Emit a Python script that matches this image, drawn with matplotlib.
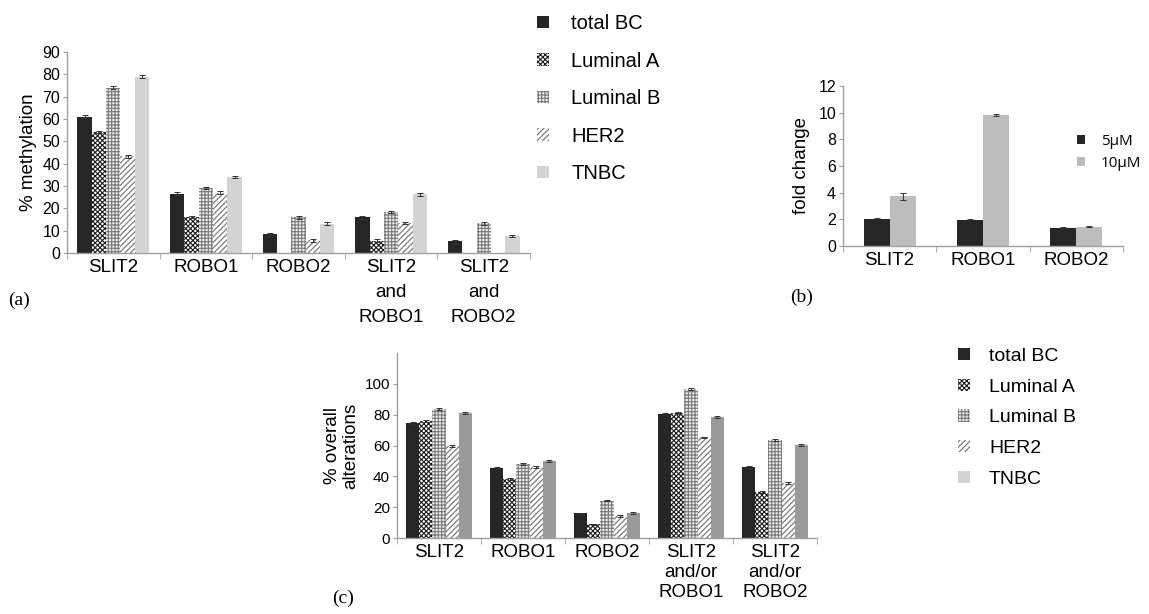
import numpy as np
import matplotlib
matplotlib.use("Agg")
import matplotlib.pyplot as plt
from matplotlib.patches import Patch

plt.rcParams['font.family'] = ['Liberation Sans', 'DejaVu Sans']
plt.rcParams['hatch.linewidth'] = 0.8

# ---------------- data ----------------
series = ["total BC", "Luminal A", "Luminal B", "HER2", "TNBC"]

cats_a = ["SLIT2", "ROBO1", "ROBO2", "SLIT2\nand\nROBO1", "SLIT2\nand\nROBO2"]
meth_total = [61, 26.6, 8.5, 16, 5.2]
meth_luma = [54.2, 16.1, 0, 5.5, 0]
meth_lumb = [74, 29.1, 16, 18.4, 13.3]
meth_her2 = [43.3, 27, 5.6, 13.5, 0]
meth_tnbc = [79, 34, 13.1, 26.3, 7.6]
meth_err = 0.6

cats_b = ["SLIT2", "ROBO1", "ROBO2"]
doses = ["5µM", "10µM"]
fold_5 = [2.03, 1.97, 1.38]
fold_10 = [3.73, 9.82, 1.45]
fold_5_err = [0.04, 0.04, 0.04]
fold_10_err = [0.25, 0.1, 0.06]

cats_c = ["SLIT2", "ROBO1", "ROBO2", "SLIT2\nand/or\nROBO1", "SLIT2\nand/or\nROBO2"]
alt_total = [74.8, 45.6, 15.9, 80.6, 46.2]
alt_luma = [75.9, 38.3, 8.8, 80.9, 30.1]
alt_lumb = [83.9, 48, 24.3, 96.8, 63.4]
alt_her2 = [59.6, 46.2, 14, 65.2, 35.9]
alt_tnbc = [81.3, 50.1, 16.3, 78.5, 60.6]
alt_err = 0.6

# ---------------- styles ----------------
DARK = '#262626'
styles = [
    dict(facecolor=DARK, edgecolor=DARK, hatch=None),
    dict(facecolor='white', edgecolor='#1a1a1a', hatch='xxxxxxx'),
    dict(facecolor='#ececec', edgecolor='#7a7a7a', hatch='+++++'),
    dict(facecolor='white', edgecolor='#707070', hatch='//////'),
    dict(facecolor='#d3d3d3', edgecolor='#d3d3d3', hatch=None),
]
SPINE = '#a0a0a0'

W, H = 1149, 614
fig = plt.figure(figsize=(W / 100, H / 100), dpi=100)


def ax_at(l, r, t, b):
    return fig.add_axes([l / W, (H - b) / H, (r - l) / W, (b - t) / H])


def style_axes(ax, ncat, labels, fs_x, fs_y, linesp):
    for s in ['top', 'right']:
        ax.spines[s].set_visible(False)
    for s in ['left', 'bottom']:
        ax.spines[s].set_color(SPINE)
        ax.spines[s].set_linewidth(1.0)
    ax.set_xlim(-0.5, ncat - 0.5)
    ax.set_xticks(np.arange(ncat))
    ax.set_xticklabels(labels, fontsize=fs_x, linespacing=linesp)
    ax.set_xticks(np.arange(ncat + 1) - 0.5, minor=True)
    ax.tick_params(axis='x', which='major', length=0, pad=4)
    ax.tick_params(axis='x', which='minor', length=4, color=SPINE)
    ax.tick_params(axis='y', length=3, color=SPINE, labelsize=fs_y, pad=2)


def grouped(ax, values, errs, width, style_list, tnbc_color=None):
    n = len(values)
    x = np.arange(len(values[0]))
    for j, (vals, st) in enumerate(zip(values, style_list)):
        st = dict(st)
        if tnbc_color is not None and j == n - 1:
            st['facecolor'] = tnbc_color
            st['edgecolor'] = tnbc_color
        pos = x + (j - (n - 1) / 2) * width
        ax.bar(pos, vals, width, linewidth=0, **st)
        v = np.array(vals, float)
        e = np.array(errs[j], float) if np.ndim(errs[j]) else np.full(len(v), errs[j])
        m = v > 0
        ax.errorbar(pos[m], v[m], yerr=e[m], fmt='none', ecolor='#333333',
                    elinewidth=0.7, capsize=2, capthick=0.7)


# ---------------- panel (a) ----------------
axa = ax_at(67, 530, 52, 253)
grouped(axa, [meth_total, meth_luma, meth_lumb, meth_her2, meth_tnbc],
        [meth_err] * 5, 0.155, styles)
axa.set_ylim(0, 90)
axa.set_yticks(np.arange(0, 91, 10))
style_axes(axa, 5, cats_a, 13.5, 11.5, 1.65)
axa.set_ylabel("% methylation", fontsize=13.5, labelpad=4)

# ---------------- panel (b) ----------------
axb = ax_at(843, 1123, 86, 246)
xb = np.arange(len(cats_b))
wb = 0.28
axb.bar(xb - wb / 2, fold_5, wb, color=DARK, linewidth=0, label=doses[0])
axb.bar(xb + wb / 2, fold_10, wb, color='#bdbdbd', linewidth=0, label=doses[1])
axb.errorbar(xb - wb / 2, fold_5, yerr=fold_5_err, fmt='none', ecolor='#333333',
             elinewidth=0.7, capsize=2, capthick=0.7)
axb.errorbar(xb + wb / 2, fold_10, yerr=fold_10_err, fmt='none', ecolor='#333333',
             elinewidth=0.7, capsize=2, capthick=0.7)
axb.set_ylim(0, 12)
axb.set_yticks(np.arange(0, 13, 2))
style_axes(axb, 3, cats_b, 13.5, 11.5, 1.2)
axb.set_ylabel("fold change", fontsize=13.5, labelpad=6)
axb.legend(loc='upper left', bbox_to_anchor=(1077 / W, 1 - 134 / H),
           bbox_transform=fig.transFigure, frameon=False,
           prop={'family': ['Open Sans', 'DejaVu Sans'], 'size': 11},
           handlelength=0.55, handleheight=0.55, handletextpad=1.0,
           labelspacing=0.45, borderpad=0, borderaxespad=0)

# ---------------- panel (c) ----------------
axc = ax_at(397, 817, 353, 538)
grouped(axc, [alt_total, alt_luma, alt_lumb, alt_her2, alt_tnbc],
        [alt_err] * 5, 0.155, styles, tnbc_color='#9a9a9a')
axc.set_ylim(0, 120)
axc.set_yticks(np.arange(0, 101, 20))
style_axes(axc, 5, cats_c, 13.5, 11, 1.25)
axc.set_ylabel("% overall\nalterations", fontsize=13.5, labelpad=4, linespacing=1.1)

# ---------------- legends for (a) and (c) ----------------
handles = [Patch(facecolor=s['facecolor'], edgecolor=s['edgecolor'], hatch=s['hatch'],
                 linewidth=0, label=lab) for s, lab in zip(styles, series)]
fig.legend(handles=handles, loc='upper left', bbox_to_anchor=(537 / W, 1 - 14 / H),
           frameon=False, fontsize=14.5, handlelength=0.6, handleheight=0.6,
           handletextpad=1.1, labelspacing=0.92, borderpad=0, borderaxespad=0)
fig.legend(handles=handles, loc='upper left', bbox_to_anchor=(958 / W, 1 - 348 / H),
           frameon=False, fontsize=14, handlelength=0.6, handleheight=0.6,
           handletextpad=1.0, labelspacing=0.7, borderpad=0, borderaxespad=0)

# ---------------- panel labels ----------------
for txt, x, y in [("(a)", 19, 300), ("(b)", 802, 297), ("(c)", 343, 598)]:
    fig.text(x / W, 1 - y / H, txt, ha='center', va='center', fontsize=14,
             family=['Liberation Serif', 'DejaVu Serif'])

fig.savefig("out.png", dpi=100)
